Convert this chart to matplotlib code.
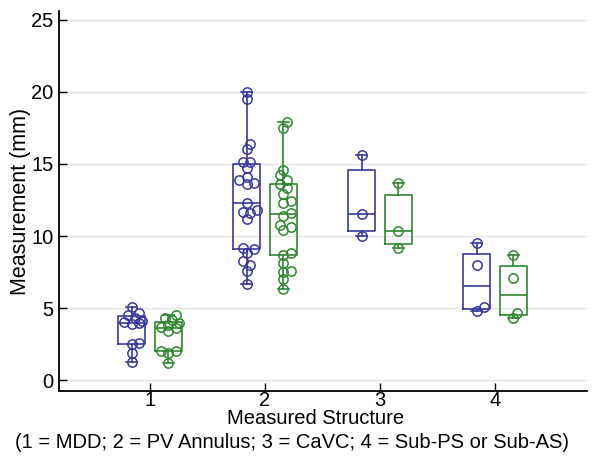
import numpy as np
import matplotlib
matplotlib.use('Agg')
import matplotlib.pyplot as plt

plt.rcParams['font.family'] = ['Liberation Sans', 'DejaVu Sans']

categories = [1, 2, 3, 4]
tick_labels = ['1', '2', '3', '4']
y_ticks = [0, 5, 10, 15, 20, 25]

blue_values = [
    [1.3, 1.9, 2.5, 2.6, 3.9, 3.95, 4.05, 4.1, 4.3, 4.55, 4.7, 5.1],
    [6.7, 7.6, 8.0, 8.3, 8.8, 9.1, 9.2, 11.2, 11.6, 11.7, 11.8, 12.3,
     13.6, 13.7, 13.9, 14.1, 14.7, 15.1, 15.1, 16.0, 16.4, 19.5, 20.0],
    [10.0, 11.5, 15.6],
    [4.8, 5.05, 8.0, 9.5],
]
green_values = [
    [1.2, 1.9, 2.0, 2.05, 3.4, 3.6, 3.7, 3.8, 3.95, 4.15, 4.3, 4.5],
    [6.3, 7.0, 7.5, 7.6, 8.1, 8.7, 8.8, 10.4, 10.6, 10.8, 11.4, 11.6,
     12.3, 12.4, 12.9, 13.3, 13.6, 13.9, 14.2, 14.6, 17.5, 17.9],
    [9.15, 10.37, 13.7],
    [4.35, 4.7, 7.1, 8.7],
]

BLUE = '#38389e'
GREEN = '#2f872f'
OFFSET = 0.16
WIDTH = 0.235
FS = 14.5

fig = plt.figure(figsize=(6.16, 4.58), dpi=100)
ax = fig.add_axes([0.096, 0.146, 0.857, 0.830])
ax.set_xlim(0.21, 4.8)
ax.set_ylim(-0.75, 25.6)


def stats_for(vals):
    q1, med, q3 = np.percentile(vals, [25, 50, 75], method='hazen')
    return dict(med=med, q1=q1, q3=q3, whislo=min(vals), whishi=max(vals), fliers=[])


def swarm(center, vals, diam_px):
    # deterministic, tight swarm layout in pixel space
    order = np.argsort(vals)
    placed = []
    xs = np.zeros(len(vals))
    c_px = ax.transData.transform((center, 0))[0]
    step = diam_px * 0.38
    cands = [0.0]
    for k in range(1, 4):
        cands += [k * step, -k * step]
    for i in order:
        ypx = ax.transData.transform((center, vals[i]))[1]
        best, best_d = 0.0, -1
        for cx in cands:
            dmin = min([np.hypot(c_px + cx - px, ypx - py) for (px, py) in placed] or [99])
            if dmin >= diam_px * 0.62:
                best = cx
                break
            if dmin > best_d:
                best_d, best = dmin, cx
        placed.append((c_px + best, ypx))
        xs[i] = ax.transData.inverted().transform((c_px + best, ypx))[0]
    return xs


for series, color, sign in [(blue_values, BLUE, -1), (green_values, GREEN, 1)]:
    for cat, vals in zip(categories, series):
        pos = cat + sign * OFFSET
        lp = dict(color=color, linewidth=1.2)
        ax.bxp([stats_for(vals)], positions=[pos], widths=WIDTH, capwidths=0.09,
               showfliers=False, boxprops=lp, whiskerprops=lp, capprops=lp,
               medianprops=lp, manage_ticks=False)
        xs = swarm(pos, vals, 9.5)
        ax.plot(xs, vals, 'o', ms=6.7, mfc='none', mec=color, mew=1.1, zorder=3)

ax.set_xticks(categories)
ax.set_xticklabels(tick_labels)
ax.set_yticks(y_ticks)
ax.yaxis.grid(True, color='#e4e4e4', linewidth=1)
ax.set_axisbelow(True)
for s in ['top', 'right']:
    ax.spines[s].set_visible(False)
for s in ['left', 'bottom']:
    ax.spines[s].set_linewidth(1.3)
ax.tick_params(direction='in', length=6, width=1, labelsize=FS)
ax.tick_params(axis='x', pad=0)
ax.tick_params(axis='y', pad=4)
ax.set_ylabel('Measurement (mm)', fontsize=FS + 1)
ax.yaxis.set_label_coords(-0.054, 0.5)

fig.text(0.513, 0.086, 'Measured Structure', fontsize=FS, ha='center', va='center')
fig.text(0.474, 0.034, '(1 = MDD; 2 = PV Annulus; 3 = CaVC; 4 = Sub-PS or Sub-AS)',
         fontsize=FS, ha='center', va='center')

fig.savefig('out.png', dpi=100)
